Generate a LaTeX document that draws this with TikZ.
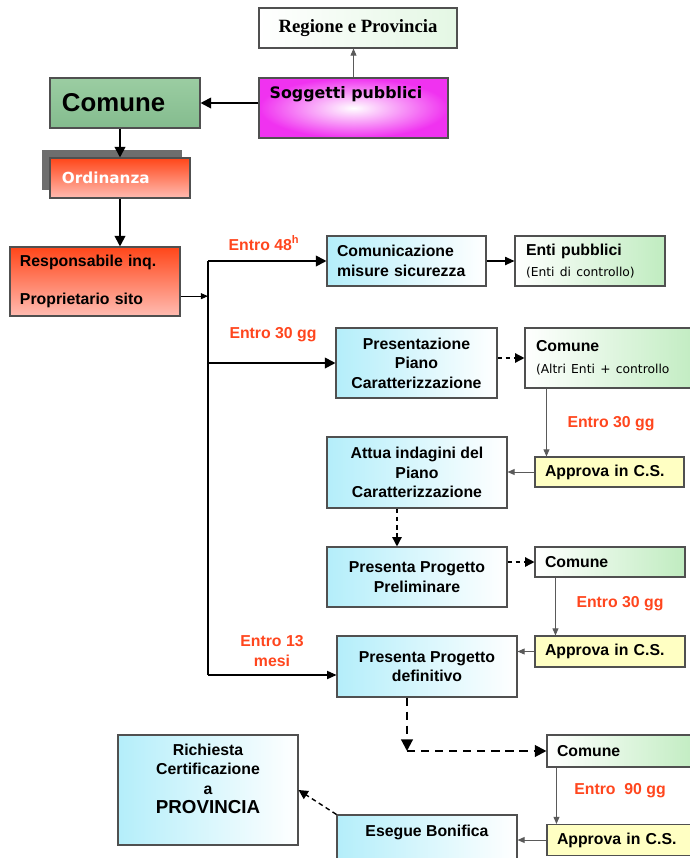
\documentclass[tikz,border=0pt]{standalone}
\usepackage{fontspec}
\setmainfont{Liberation Sans}
\newfontfamily\regfont{Liberation Serif}
\newfontfamily\widefont{DejaVu Sans}
\usetikzlibrary{positioning, arrows.meta, shadows}
\definecolor{edgegray}{RGB}{80,80,80}
\definecolor{linkgray}{RGB}{90,90,90}
\definecolor{entrored}{RGB}{255,70,30}
\definecolor{cyanbox}{RGB}{180,238,250}
\definecolor{greenbox}{RGB}{192,236,192}
\definecolor{palegreen}{RGB}{228,247,228}
\definecolor{yellowbox}{RGB}{255,255,195}
\definecolor{comunetop}{RGB}{155,205,162}
\definecolor{comunegreen}{RGB}{132,188,142}
\definecolor{magentabox}{RGB}{240,50,240}
\definecolor{redtop}{RGB}{255,70,25}
\definecolor{redbottom}{RGB}{255,188,178}
\definecolor{shadowgray}{RGB}{110,110,110}
\newcommand{\boxfont}{\fontsize{13.5}{16.6}\selectfont\bfseries}
\newcommand{\smallfont}{\normalfont\widefont\fontsize{10.5}{12}\selectfont}

\begin{document}
\begin{tikzpicture}[x=0.03cm, y=-0.03cm, >={Triangle[length=9pt,width=9pt]},
  box/.style={draw=edgegray, line width=0.9pt, font=\boxfont, inner sep=0pt},
  stepbox/.style={box, left color=cyanbox, right color=white, align=center},
  entebox/.style={box, left color=white, right color=greenbox, align=left},
  approvabox/.style={box, fill=yellowbox, align=left},
  entro/.style={text=entrored, font=\boxfont, align=center},
  link/.style={->, line width=1.6pt},
  thinlink/.style={-{Triangle[length=6pt,width=5pt]}, line width=0.8pt, draw=linkgray},
  dashlink/.style={-{Triangle[length=8pt,width=8pt]}, line width=1.2pt, dash pattern=on 4pt off 3pt},
  bigdash/.style={-{Triangle[length=10pt,width=10pt]}, line width=1.8pt, dash pattern=on 7pt off 5pt}]
  \path[use as bounding box, fill=white] (0,0) rectangle (689,858);

  % top: public bodies
  \node[box, left color=white, right color=palegreen, minimum width=5.94cm, minimum height=1.2cm,
    font=\regfont\fontsize{16}{18}\selectfont\bfseries] (reg) at (358,28) {Regione e Provincia};
  \node[box, inner color=white, outer color=magentabox, minimum width=5.67cm, minimum height=1.8cm] (sogg) at (353.5,108) {};
  \node[below right=0.26cm and 0.33cm of sogg.north west, inner sep=0pt,
    font=\widefont\fontsize{13.5}{16}\selectfont\bfseries] (soggtxt) {Soggetti pubblici};
  \node[box, top color=comunetop, bottom color=comunegreen, minimum width=4.5cm, minimum height=1.5cm,
    text width=3.78cm, align=left, font=\fontsize{22}{26}\selectfont\bfseries] (comune) at (125,103) {Comune};
  \node[box, top color=redtop, bottom color=redbottom, minimum width=4.2cm, minimum height=1.2cm,
    text width=3.48cm, align=left, text=white, font=\widefont\fontsize{13}{16}\selectfont\bfseries,
    drop shadow={shadow xshift=-0.24cm, shadow yshift=0.24cm, fill=shadowgray, opacity=1}] (ord) at (120,178) {Ordinanza};
  \node[box, top color=redtop, bottom color=redbottom, minimum width=5.1cm, minimum height=2.07cm,
    text width=4.5cm, align=left] (resp) at (95,281.5) {Responsabile inq.\\[16pt]Proprietario sito};

  \draw[link] (sogg.west |- comune.east) -- (comune.east);
  \draw[thinlink] (sogg.north) -- (sogg.north |- reg.south);
  \draw[link] (comune.south -| ord.north) -- (ord.north);
  \draw[link] (ord.south) -- (ord.south |- resp.north);

  % steps
  \node[stepbox, align=left, minimum width=4.77cm, minimum height=1.5cm, text width=4.17cm] (comun) at (406.5,261) {Comunicazione\\misure sicurezza};
  \node[entebox, minimum width=4.5cm, minimum height=1.5cm, text width=3.84cm] (enti) at (590,261) {Enti pubblici\\[2pt]{\smallfont(Enti di controllo)}};
  \node[stepbox, minimum width=4.83cm, minimum height=2.1cm] (pres) at (416.5,363) {Presentazione\\Piano\\Caratterizzazione};
  \node[entebox, minimum width=5.25cm, minimum height=1.8cm, text width=4.59cm] (com2) at (612.5,358) {Comune\\[2pt]{\smallfont(Altri Enti + controllo}};
  \node[approvabox, minimum width=4.47cm, minimum height=0.9cm, text width=3.87cm] (app1) at (609.5,472) {Approva in C.S.};
  \node[stepbox, minimum width=5.4cm, minimum height=2.13cm] (attua) at (417,472.5) {Attua indagini del\\Piano\\Caratterizzazione};
  \node[stepbox, minimum width=5.4cm, minimum height=1.8cm] (prel) at (417,577) {Presenta Progetto\\Preliminare};
  \node[entebox, minimum width=4.5cm, minimum height=0.9cm, text width=3.9cm] (com3) at (610,562) {Comune};
  \node[approvabox, minimum width=4.5cm, minimum height=0.93cm, text width=3.9cm] (app2) at (610,651.5) {Approva in C.S.};
  \node[stepbox, minimum width=5.4cm, minimum height=1.83cm] (defin) at (427,666.5) {Presenta Progetto\\definitivo};
  \node[entebox, minimum width=4.59cm, minimum height=0.96cm, text width=3.99cm] (com4) at (623.5,751) {Comune};
  \node[approvabox, minimum width=4.59cm, minimum height=0.93cm, text width=3.99cm] (app3) at (623.5,840) {Approva in C.S.};
  \node[stepbox, minimum width=5.4cm, minimum height=1.95cm] (eseg) at (427,847.5) {};
  \node[below=0.3cm of eseg.north, inner sep=0pt, font=\boxfont] (esegtxt) {Esegue Bonifica};
  \node[stepbox, minimum width=5.4cm, minimum height=3.3cm] (rich) at (208,790) {};
  \node[below=0.28cm of rich.north, inner sep=0pt, font=\boxfont, align=center] (richtxt)
    {Richiesta\\Certificazione\\a\\{\fontsize{16}{19}\selectfont PROVINCIA}};

  % deadlines
  \node[entro] (e48) at (264,243) {Entro 48\textsuperscript{h}};
  \node[entro] (e30a) at (273,335) {Entro 30 gg};
  \node[entro] (e30b) at (611,424) {Entro 30 gg};
  \node[entro] (e30c) at (620,604) {Entro 30 gg};
  \node[entro] (e13) at (272,651) {Entro 13\\mesi};
  \node[entro] (e90) at (620,791) {Entro~~90 gg};

  % spine
  \coordinate (sp) at (208,296);
  \coordinate (spinebot) at (208,675);
  \draw[thinlink, draw=black] ([yshift=-0.44cm]resp.east) -- ([yshift=-0.44cm]resp.east -| sp);
  \draw[line width=1.4pt] (sp |- comun.west) -- (spinebot);
  \draw[link] (sp |- comun.west) -- (comun.west);
  \draw[link] (sp |- pres.west) -- (pres.west);
  \draw[-{Triangle[length=8pt,width=7pt]}, line width=1pt] (spinebot) -- (spinebot -| defin.west);

  \draw[-{Triangle[length=8pt,width=7pt]}, line width=1.2pt] (comun.east) -- (enti.west);
  \draw[dashlink] (pres.east |- com2.west) -- (com2.west);
  \draw[thinlink] ([xshift=0.66cm]com2.south west) -- ([xshift=0.66cm]com2.south west |- app1.north);
  \draw[thinlink] (app1.west) -- (app1.west -| attua.east);
  \draw[dashlink] ([xshift=-0.6cm]attua.south) -- ([xshift=-0.6cm]attua.south |- prel.north);
  \draw[dashlink] (prel.east |- com3.west) -- (com3.west);
  \draw[thinlink] ([xshift=0.63cm]com3.south west) -- ([xshift=0.63cm]com3.south west |- app2.north);
  \draw[thinlink] (app2.west) -- (app2.west -| defin.east);
  \coordinate (turn) at ([xshift=-0.6cm]defin.south |- com4.west);
  \draw[bigdash] ([xshift=-0.6cm]defin.south) -- (turn);
  \draw[bigdash] (turn) -- (com4.west);
  \draw[thinlink] ([xshift=0.3cm]com4.south west) -- ([xshift=0.3cm]com4.south west |- app3.north);
  \draw[thinlink] (app3.west) -- (app3.west -| eseg.east);
  \draw[dashlink] (eseg.north west) -- (rich.east);
\end{tikzpicture}
\end{document}
